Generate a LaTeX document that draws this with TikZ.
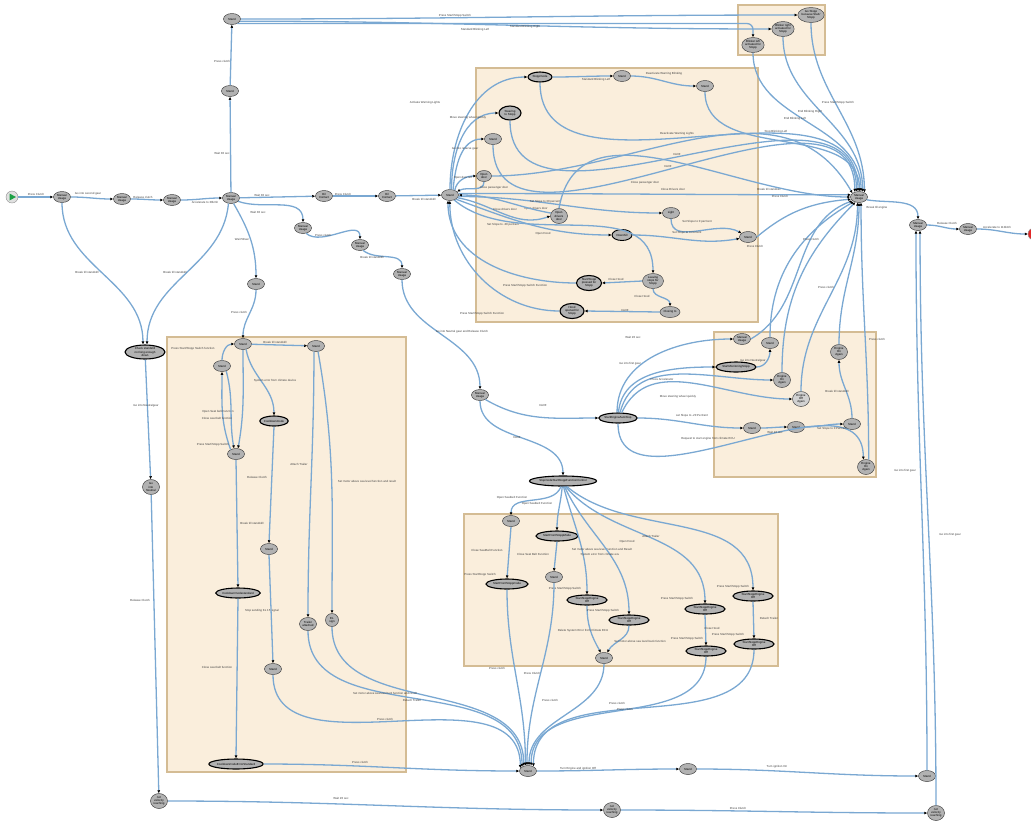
\documentclass[tikz,border=0pt]{standalone}
\usepackage{fontspec}
\setmainfont{Liberation Sans}
\usetikzlibrary{shapes.geometric,arrows.meta}

\definecolor{flowblue}{RGB}{122,168,210}
\definecolor{nodegray}{RGB}{178,178,178}
\definecolor{nodeedge}{RGB}{70,70,70}
\definecolor{grpfill}{RGB}{250,238,220}
\definecolor{grpedge}{RGB}{212,188,148}
\definecolor{startgreen}{RGB}{30,160,70}
\definecolor{endred}{RGB}{225,40,40}

\begin{document}
\begin{tikzpicture}[x=1pt,y=1pt,
  st/.style={ellipse,draw=nodeedge,fill=nodegray,line width=0.5pt,minimum width=17pt,minimum height=11pt,inner sep=0pt,align=center,font=\fontsize{2.9}{3.1}\selectfont},
  tri/.style={st,minimum width=21pt,minimum height=15pt},
  bold/.style={st,draw=black,line width=1.1pt,minimum width=#1,minimum height=10pt},
  bold/.default=40pt,
  lbl/.style={font=\fontsize{2.9}{3.1}\selectfont,text=black!75,inner sep=0pt},
  flow/.style={draw=flowblue,line width=1.3pt,-{Latex[length=3pt,width=3pt,color=black]}},
  grp/.style={fill=grpfill,draw=grpedge,line width=1.8pt}]
  \useasboundingbox (0,0) rectangle (1031,-823);

  \draw[grp] (738,-5) rectangle (825,-55);
  \draw[grp] (476,-68) rectangle (758,-322);
  \draw[grp] (167,-337) rectangle (406,-772);
  \draw[grp] (714,-332) rectangle (876,-477);
  \draw[grp] (464,-514) rectangle (778,-666);

  \node[circle,draw=black!45,fill=black!12,minimum size=12pt,inner sep=0pt] (start) at (12,-197) {};
  \fill[startgreen] (9.5,-193.5) -- (16,-197) -- (9.5,-200.5) -- cycle;
  \node[st] (mu1) at (62,-197) {Manual\\Usage};
  \node[st] (mu2) at (122,-199) {Manual\\Usage};
  \node[st] (mu3) at (172,-200) {Manual\\Usage};
  \node[st] (mu4) at (231,-198) {Manual\\Usage};
  \node[st] (sa) at (230,-91) {Stand};
  \node[st] (sb) at (232,-19) {Stand};
  \node[tri] (gA) at (811,-15) {Go Stopp\\because Start/\\Stopp};
  \node[tri] (gB) at (783,-29) {Blinker right\\activated for\\Stopp};
  \node[tri] (gC) at (753,-45) {Blinker left\\activated for\\Stopp};
  \node[st] (hm) at (859,-197) {Manual\\Usage};
  \node[st] (hm2) at (918,-225) {Manual\\Usage};
  \node[st] (hm3) at (968,-229) {Manual\\Usage};
  \node[circle,draw=black!45,fill=endred,minimum size=12pt,inner sep=0pt] (endn) at (1034,-234) {};
  \node[st] (oc1) at (324,-196) {Oil\\Contact};
  \node[st] (oc2) at (387,-196) {Oil\\Contact};
  \node[st] (hs) at (450,-195) {Stand};
  \node[st] (mu5) at (303,-228) {Manual\\Usage};
  \node[st] (mu6) at (360,-245) {Manual\\Usage};
  \node[st] (mu7) at (402,-274) {Manual\\Usage};
  \node[st] (mu8) at (480,-395) {Manual\\Usage};
  \node[st] (s1) at (256,-284) {Stand};
  \node[bold=40pt,minimum height=14pt] (wait) at (145,-352) {Check standstill\\not long enough\\down};
  \node[tri,minimum width=17pt] (gn) at (151,-487) {Go\\into\\Neutral};
  \node[tri,minimum width=17pt] (w20) at (159,-801) {not\\velocity\\reaching};
  \node[tri,minimum width=17pt] (w20b) at (612,-810) {not\\velocity\\reaching};
  \node[tri,minimum width=17pt] (w20c) at (936,-813) {not\\velocity\\reaching};
  \node[st] (hb) at (528,-771) {Stand};
  \node[st] (soff) at (688,-769) {Stand};
  \node[st] (son) at (927,-776) {Stand};

  \node[bold=24pt] (stopp) at (540,-77) {Stoppmode};
  \node[st] (sb1) at (622,-76) {Stand};
  \node[st] (sb2) at (705,-86) {Stand};
  \node[bold=22pt,minimum height=14pt] (steer) at (510,-113) {Steering\\to Stopp};
  \node[st] (sb3) at (493,-139) {Stand};
  \node[st,minimum width=15pt] (od) at (484,-176) {Open\\door};
  \node[tri,minimum width=17pt] (odd) at (559,-216) {Open\\drivers\\door};
  \node[st] (light) at (671,-213) {Light};
  \node[st,line width=0.9pt,draw=black,minimum width=20pt] (down) at (622,-235) {Downhill};
  \node[st] (sb4) at (748,-237) {Stand};
  \node[tri] (leave) at (653,-281) {Leaving\\stops for\\Stopp};
  \node[bold=25pt,minimum height=15pt] (startst) at (589,-283) {Start/Stopp\\pressed for\\Stopp};
  \node[st,minimum width=20pt] (closing) at (670,-312) {Closing to};
  \node[bold=24pt,minimum height=15pt] (hoodst) at (572,-311) {Hood\\opened for\\Stopp};

  \node[st] (s2) at (243,-344) {Stand};
  \node[st] (ssm) at (222,-366) {Stand};
  \node[st] (sr) at (316,-346) {Stand};
  \node[bold=28pt] (cool) at (274,-421) {Cooldownmode};
  \node[st] (s3) at (236,-454) {Stand};
  \node[st] (s4) at (269,-549) {Stand};
  \node[bold=41pt] (cds) at (238,-593) {Cooldownmodestandard};
  \node[st,minimum height=13pt] (brake) at (308,-624) {Trailer\\attached};
  \node[st,minimum width=13pt,minimum height=13pt] (elsign) at (332,-620) {EL\\sign};
  \node[st] (s5) at (273,-669) {Stand};
  \node[bold=46pt] (lastL) at (236,-764) {CooldownmodeErrorStandard};

  \node[st] (mu9) at (742,-339) {Manual\\Usage};
  \node[st] (s7) at (770,-343) {Stand};
  \node[bold=40pt] (mon) at (736,-367) {StartMonitoringStopp};
  \node[tri,minimum width=17pt] (eng1) at (782,-380) {Engine\\On\\Again};
  \node[tri,minimum width=17pt] (eng2) at (839,-352) {Engine\\On\\Again};
  \node[tri,minimum width=17pt,fill=nodegray!60] (eng3) at (801,-399) {Engine\\Off\\Again};
  \node[st] (s6) at (752,-428) {Stand};
  \node[st] (s8) at (796,-427) {Stand};
  \node[st] (s9) at (852,-424) {Stand};
  \node[tri,minimum width=17pt] (eng4) at (866,-467) {Engine\\On\\Again};
  \node[bold=38pt] (seas) at (618,-418) {StartEngineAutoStop};
  \node[bold=65pt] (big2) at (563,-481) {StopmodeStartStoppFunctionControl};

  \node[st] (s10) at (511,-521) {Stand};
  \node[bold=42pt] (w4a) at (557,-536) {StartFrontStoppMode};
  \node[st] (s11) at (554,-577) {Stand};
  \node[bold=42pt] (w4b) at (507,-584) {StartFrontStoppmode};
  \node[bold=40pt] (w4c) at (587,-600) {StartStoppEngine\\Off};
  \node[bold=40pt] (w4d) at (629,-620) {StartStoppEngine\\Off};
  \node[bold=40pt] (w4e) at (705,-609) {StartStoppEngine\\Off};
  \node[bold=40pt] (w4f) at (753,-596) {StartStoppEngine\\Off};
  \node[bold=40pt] (w4g) at (706,-651) {StartStoppEngine\\Off};
  \node[bold=40pt] (w4h) at (754,-644) {StartStoppEngine\\Off};
  \node[st] (s12) at (604,-658) {Stand};

  \draw[flow] (start) -- (mu1);
  \node[lbl] (t1) at (36,-194) {Press Clutch};
  \draw[flow] (mu1) to[out=0,in=180] (mu2);
  \node[lbl] (t2) at (88,-194) {Go into second gear};
  \draw[flow] (mu2) to[out=0,in=180] (mu3);
  \node[lbl] (t3) at (143,-197) {Release clutch};
  \draw[flow] (mu3) to[out=0,in=180] (mu4);
  \node[lbl] (t4) at (205,-202) {Accelerate to 30kmh};
  \draw[flow] (mu4) -- (sa);
  \node[lbl] (t5) at (222,-153) {Wait 30 sec};
  \draw[flow] (sa) -- (sb);
  \node[lbl] (t6) at (222,-61) {Press clutch};
  \draw[flow] (sb.east) to[out=0,in=180] (gA.west);
  \node[lbl] (t7) at (455,-16) {Press Start/Stopp Switch};
  \draw[flow] (sb.-15) to[out=0,in=180] (gB.west);
  \node[lbl] (t8) at (525,-27) {Standard Blinking Right};
  \draw[flow,rounded corners=6pt] (sb.-40) -| (gC.north);
  \node[lbl] (t9) at (475,-30) {Standard Blinking Left};
  \draw[flow] (mu4) -- (oc1);
  \node[lbl] (t10) at (262,-195) {Wait 30 sec};
  \draw[flow] (oc1) -- (oc2);
  \node[lbl] (t11) at (343,-194) {Press Clutch};
  \draw[flow] (oc2) -- (hs);
  \node[lbl] (t12) at (424,-199) {Break till standstill};
  \draw[flow] (mu4.-25) to[out=-20,in=90] (mu5.north);
  \node[lbl] (t13) at (258,-212) {Wait 30 sec};
  \draw[flow] (mu5.-60) to[out=-40,in=90] (mu6.north);
  \node[lbl] (t14) at (323,-235) {Press clutch};
  \draw[flow] (mu6.-60) to[out=-40,in=90] (mu7.north);
  \node[lbl] (t15) at (372,-257) {Break till standstill};
  \draw[flow] (mu4.-65) to[out=-60,in=90] (s1.north);
  \node[lbl] (t16) at (242,-239) {Wait 50sec};
  \draw[flow] (s1.south) to[out=270,in=90] (s2.north);
  \node[lbl] (t17) at (239,-312) {Press clutch};
  \draw[flow] (mu1.south) to[out=270,in=90] (wait.105);
  \node[lbl] (t18) at (87,-272) {Break till standstill};
  \draw[flow] (mu4.-115) to[out=265,in=90] (wait.75);
  \node[lbl] (t19) at (175,-272) {Break till standstill};
  \draw[flow] (wait) -- (gn);
  \node[lbl] (t20) at (146,-406) {Go into Neutralgear};
  \draw[flow] (gn) -- (w20);
  \node[lbl] (t21) at (140,-600) {Release Clutch};
  \draw[flow] (w20) to[out=0,in=180] (w20b);
  \node[lbl] (t22) at (341,-798) {Wait 20 sec};
  \draw[flow] (w20b) to[out=0,in=180] (w20c);
  \node[lbl] (t23) at (738,-808) {Press Clutch};

  \draw[flow] (gA.south) to[out=270,in=90] (hm.40);
  \node[lbl] (t24) at (838,-103) {Press Start/Stopp Switch};
  \draw[flow] (gB.south) to[out=270,in=90] (hm.55);
  \node[lbl] (t25) at (810,-112) {End Blinking Right};
  \draw[flow] (gC.south) to[out=270,in=90] (hm.70);
  \node[lbl] (t26) at (795,-119) {End Blinking Left};

  \draw[flow] (hs.north) to[out=90,in=180] (stopp.west);
  \node[lbl] (t30) at (425,-103) {Activate Warning Lights};
  \draw[flow] (hs.75) to[out=90,in=180] (steer.west);
  \node[lbl] (t31) at (468,-118) {Move steering wheel quickly};
  \draw[flow] (hs.60) to[out=85,in=180] (sb3.west);
  \node[lbl] (t32) at (465,-149) {Go into reverse gear};
  \draw[flow] (hs.45) to[out=80,in=180] (od.west);
  \node[lbl] (t33) at (463,-178) {Open door left};
  \draw[flow] (od.south) to[out=270,in=30] (hs.25);
  \node[lbl] (t34) at (494,-188) {Close passenger door};
  \draw[flow] (stopp.east) to[out=0,in=180] (sb1.west);
  \node[lbl] (t35) at (596,-80) {Standard Blinking Left};
  \draw[flow] (sb1.east) to[out=0,in=180] (sb2.west);
  \node[lbl] (t36) at (664,-74) {Deactivate Warning Blinking};
  \draw[flow] (hs.-10) to[out=0,in=180] (light.west);
  \node[lbl] (t37) at (545,-202) {Set Slope to 30 percent};
  \draw[flow] (hs.-20) to[out=-10,in=200] (odd.west);
  \node[lbl] (t38) at (536,-209) {Open drivers door};
  \draw[flow] (odd.160) to[out=170,in=0] (hs.east);
  \node[lbl] (t39) at (505,-209) {Close drivers door};
  \draw[flow] (hs.-35) to[out=-20,in=180] (down.west);
  \node[lbl] (t40) at (503,-225) {Set Slope to -30 perCent};
  \draw[flow] (hs.-50) to[out=-40,in=90] (leave.north);
  \node[lbl] (t41) at (543,-234) {Open Hood};
  \draw[flow] (light.south) to[out=270,in=150] (sb4.150);
  \node[lbl] (t42) at (697,-222) {Set Slope to 0 perCent};
  \draw[flow] (down.east) to[out=0,in=190] (sb4.190);
  \node[lbl] (t43) at (687,-233) {Set Slope to 0 Percent};
  \draw[flow] (leave.west) -- (startst.east);
  \node[lbl] (t44) at (616,-279) {Close Hood};
  \draw[flow] (leave.south) to[out=270,in=90] (closing.north);
  \node[lbl] (t45) at (642,-296) {Close Hood};
  \draw[flow] (closing.west) -- (hoodst.east);
  \node[lbl] (t46) at (625,-310) {IGOF};
  \draw[flow] (startst.west) to[out=180,in=270] (hs.250);
  \node[lbl] (t47) at (525,-286) {Press Start/Stopp Switch Function};
  \draw[flow] (hoodst.west) to[out=180,in=270] (hs.268);
  \node[lbl] (t48) at (482,-314) {Press Start/Stopp Switch Function};

  \draw[flow] (sb2.south) to[out=270,in=90] (hm.85);
  \node[lbl] (t50) at (776,-132) {Stop Blinking Left};
  \draw[flow] (stopp.south) to[out=270,in=90] (hm.100);
  \node[lbl] (t51) at (677,-134) {Deactivate Warning Lights};
  \draw[flow] (steer.south) to[out=270,in=90] (hm.115);
  \node[lbl] (t52) at (677,-154) {IGOF};
  \draw[flow] (sb3.south) to[out=270,in=90] (hm.130);
  \node[lbl] (t53) at (668,-166) {IGOF};
  \draw[flow] (od.east) to[out=0,in=120] (hm.150);
  \node[lbl] (t54) at (645,-183) {Close passenger door};
  \draw[flow] (hs.10) to[out=0,in=180] (hm.165);
  \node[lbl] (t55) at (769,-189) {Break till standstill};
  \draw[flow] (odd.north) to[out=80,in=180] (hm.180);
  \node[lbl] (t56) at (673,-189) {Close Drivers door};
  \draw[flow] (sb4.east) to[out=40,in=185] (hm.195);
  \node[lbl] (t57) at (755,-246) {Press Clutch};
  \node[lbl] (t58) at (780,-196) {Press Clutch};

  \draw[flow] (mu7.south) to[out=270,in=90] (mu8.north);
  \node[lbl] (t60) at (462,-332) {Go into Neutral gear and Release Clutch};
  \draw[flow] (mu8.-40) to[out=-30,in=180] (seas.west);
  \node[lbl] (t61) at (543,-405) {IGOF};
  \draw[flow] (mu8.south) to[out=270,in=90] (big2.north);
  \node[lbl] (t62) at (517,-437) {IGOF};

  \draw[flow] (seas.100) to[out=90,in=180] (mu9.west);
  \node[lbl] (t63) at (633,-337) {Wait 20 sec};
  \draw[flow] (seas.85) to[out=85,in=180] (mon.west);
  \node[lbl] (t64) at (630,-364) {Go into first gear};
  \draw[flow] (seas.70) to[out=75,in=180] (eng1.west);
  \node[lbl] (t65) at (662,-379) {Press Accelerator};
  \draw[flow] (seas.55) to[out=65,in=180] (eng3.west);
  \node[lbl] (t66) at (678,-397) {Move steering wheel quickly};
  \draw[flow] (seas.east) to[out=0,in=180] (s6.west);
  \node[lbl] (t67) at (692,-416) {set Slope to -20 PerCent};
  \draw[flow] (seas.south) to[out=270,in=90] (eng4.110);
  \node[lbl] (t68) at (708,-439) {Request to start engine from climate ECU};
  \draw[flow] (mon.east) to[out=0,in=270] (s7.south);
  \node[lbl] (t69) at (753,-361) {Go into Neutralgear};
  \draw[flow] (s6) to[out=0,in=180] (s8);
  \node[lbl] (t70) at (775,-432) {Wait 10 sec};
  \draw[flow] (s8) to[out=0,in=180] (s9);
  \node[lbl] (t71) at (832,-429) {Set Slope to 0 PerCent};
  \draw[flow] (s9.north) to[out=90,in=270] (eng2.south);
  \node[lbl] (t72) at (837,-391) {Break till standstill};
  \draw[flow] (mu9.east) to[out=30,in=200] (hm.210);
  \draw[flow] (s7.north) to[out=90,in=210] (hm.222);
  \draw[flow] (eng1.north) to[out=90,in=225] (hm.235);
  \draw[flow] (eng3.north) to[out=90,in=270] (hm.255);
  \node[lbl] (t73) at (811,-239) {Press clutch};
  \draw[flow] (eng2.north) to[out=90,in=270] (hm.270);
  \node[lbl] (t74) at (826,-287) {Press clutch};
  \draw[flow] (eng4.70) to[out=90,in=270] (hm.290);
  \node[lbl] (t75) at (877,-339) {Press clutch};

  \draw[flow] (s2) -- (sr);
  \node[lbl] (t80) at (275,-342) {Break till standstill};
  \draw[flow] (ssm.north) to[out=90,in=180] (s2.west);
  \node[lbl] (t81) at (193,-349) {Press Start/Stopp Switch function};
  \draw[flow] (s3.140) to[out=110,in=270] (ssm.south);
  \node[lbl] (t82) at (218,-412) {Open Seat belt Function};
  \draw[flow] (ssm.-50) to[out=285,in=100] (s3.110);
  \node[lbl] (t83) at (217,-418) {Close seat belt function};
  \draw[flow] (s2.south) to[out=270,in=80] (s3.70);
  \node[lbl] (t84) at (213,-445) {Press Start/Stopp Switch};
  \draw[flow] (s2.-60) to[out=280,in=90] (cool.north);
  \node[lbl] (t85) at (275,-381) {System error from climate device};
  \draw[flow] (cool.south) -- (s4.north);
  \node[lbl] (t86) at (257,-477) {Release Clutch};
  \draw[flow] (s3.south) -- (cds.north);
  \node[lbl] (t87) at (252,-523) {Break till standstill};
  \draw[flow] (cds.south) -- (lastL.north);
  \node[lbl] (t88) at (262,-611) {Stop sending KL 15 signal};
  \node[lbl] (t89) at (217,-667) {Close seat belt function};
  \draw[flow] (s4.south) -- (s5.north);
  \draw[flow] (sr.-110) to[out=270,in=90] (brake.north);
  \node[lbl] (t90) at (299,-464) {Attach Trailer};
  \draw[flow] (sr.-70) to[out=280,in=90] (elsign.north);
  \node[lbl] (t91) at (367,-481) {Set motor above sea level function and result};

  \draw[flow] (s5.south) to[out=270,in=90] (hb.160);
  \node[lbl] (t92) at (385,-719) {Press clutch};
  \draw[flow] (brake.south) to[out=270,in=90] (hb.145);
  \node[lbl] (t93) at (412,-700) {Detach Trailer};
  \draw[flow] (elsign.south) to[out=270,in=90] (hb.130);
  \node[lbl] (t94) at (385,-693) {Set motor above sea level to 0 function and result};
  \draw[flow] (lastL.east) to[out=0,in=180] (hb.west);
  \node[lbl] (t95) at (360,-762) {Press clutch};

  \draw[flow] (big2.250) to[out=250,in=90] (s10.north);
  \node[lbl] (t100) at (512,-498) {Open Seatbelt Function};
  \draw[flow] (big2.262) to[out=265,in=90] (w4a.north);
  \node[lbl] (t101) at (537,-504) {Open Seatbelt Function};
  \draw[flow] (big2.275) to[out=285,in=90] (w4c.north);
  \node[lbl] (t102) at (602,-549) {Set motor above sea level Function and Result};
  \draw[flow] (big2.285) to[out=295,in=90] (w4d.north);
  \node[lbl] (t103) at (600,-555) {System error from climate ecu};
  \draw[flow] (big2.295) to[out=310,in=90] (w4e.north);
  \node[lbl] (t104) at (627,-542) {Open Hood};
  \draw[flow] (big2.305) to[out=320,in=90] (w4f.north);
  \node[lbl] (t105) at (651,-536) {Attach Trailer};
  \draw[flow] (s10.south) -- (w4b.north);
  \node[lbl] (t106) at (487,-550) {Close SeatBelt Function};
  \node[lbl] (t107) at (480,-575) {Press StartStopp Switch};
  \draw[flow] (w4a.south) -- (s11.north);
  \node[lbl] (t108) at (533,-554) {Close Seat Belt Function};
  \node[lbl] (t109) at (565,-589) {Press Start/Stopp Switch};
  \draw[flow] (w4c.south) to[out=270,in=120] (s12.120);
  \node[lbl] (t110) at (583,-631) {Delete System Error from Climate ECU};
  \node[lbl] (t111) at (603,-611) {Press Start/Stopp Switch};
  \draw[flow] (w4d.south) to[out=270,in=60] (s12.60);
  \node[lbl] (t112) at (640,-641) {Set motor above sea level back function};
  \draw[flow] (w4e.south) -- (w4g.north);
  \node[lbl] (t113) at (712,-628) {Close Hood};
  \node[lbl] (t114) at (677,-599) {Press Start/Stopp Switch};
  \node[lbl] (t115) at (687,-639) {Press Start/Stopp Switch};
  \draw[flow] (w4f.south) -- (w4h.north);
  \node[lbl] (t116) at (769,-618) {Detach Trailer};
  \node[lbl] (t117) at (733,-587) {Press Start/Stopp Switch};
  \node[lbl] (t118) at (728,-635) {Press Start/Stopp Switch};

  \draw[flow] (w4b.south) to[out=270,in=90] (hb.115);
  \node[lbl] (t120) at (497,-668) {Press clutch};
  \draw[flow] (s11.south) to[out=270,in=90] (hb.100);
  \node[lbl] (t121) at (532,-673) {Press Clutch};
  \draw[flow] (s12.south) to[out=270,in=90] (hb.80);
  \node[lbl] (t122) at (550,-700) {Press clutch};
  \draw[flow] (w4g.south) to[out=270,in=90] (hb.60);
  \node[lbl] (t123) at (617,-703) {Press clutch};
  \draw[flow] (w4h.south) to[out=270,in=90] (hb.40);
  \node[lbl] (t124) at (625,-709) {Press clutch};

  \draw[flow] (hb.east) to[out=0,in=180] (soff.west);
  \node[lbl] (t130) at (578,-769) {Turn Engine and ignition Off};
  \draw[flow] (soff.east) to[out=0,in=180] (son.west);
  \node[lbl] (t131) at (777,-767) {Turn ignition On};
  \draw[flow] (son.north) to[out=90,in=270] (hm2.250);
  \node[lbl] (t132) at (905,-471) {Go into first gear};
  \draw[flow] (w20c.north) to[out=90,in=270] (hm2.290);
  \node[lbl] (t133) at (950,-535) {Go into first gear};
  \draw[flow] (hm.-20) to[out=-10,in=90] (hm2.north);
  \node[lbl] (t134) at (877,-208) {Break till engine};
  \draw[flow] (hm2.east) to[out=0,in=180] (hm3.west);
  \node[lbl] (t135) at (947,-223) {Release Clutch};
  \draw[flow] (hm3.east) to[out=0,in=180] (endn.west);
  \node[lbl] (t136) at (997,-227) {Accelerate to 110kmh};
\end{tikzpicture}
\end{document}
